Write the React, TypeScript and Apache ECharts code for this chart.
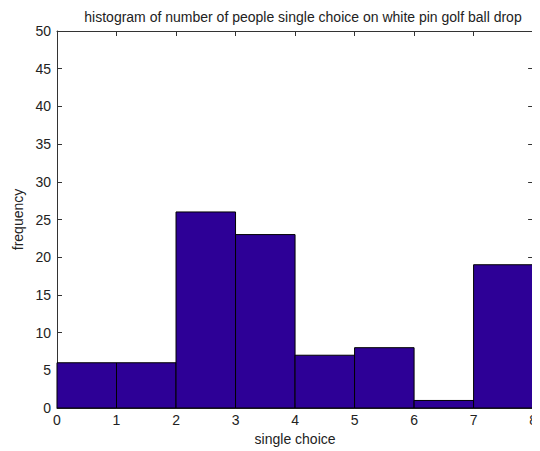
import React, { useEffect, useRef } from "react";
import * as echarts from "echarts";

const binStarts = [0, 1, 2, 3, 4, 5, 6, 7];
const binEnds = [1, 2, 3, 4, 5, 6, 7, 8];
const frequencies = [6, 6, 26, 23, 7, 8, 1, 19];
const xTicks = [0, 1, 2, 3, 4, 5, 6, 7, 8];
const yTicks = [0, 5, 10, 15, 20, 25, 30, 35, 40, 45, 50];

const FONT = "Liberation Sans, Arial, sans-serif";

export default function App() {
  const ref = useRef<HTMLDivElement>(null);
  useEffect(() => {
    if (!ref.current) return;
    const chart = echarts.init(ref.current, undefined, { renderer: "svg" });
    const data = binStarts.map((s, i) => [s, binEnds[i], frequencies[i]]);
    const axisCommon = {
      axisLine: { show: true, onZero: false, lineStyle: { color: "#333", width: 1 } },
      axisTick: { show: true, inside: true, length: 5, lineStyle: { color: "#333" } },
      splitLine: { show: false },
    };
    chart.setOption({
      animation: false,
      backgroundColor: "#fff",
      title: {
        text: "histogram of number of people single choice on white pin golf ball drop",
        left: 298,
        textAlign: "center",
        top: 5,
        textStyle: { fontSize: 14, fontWeight: "normal", color: "#222", fontFamily: FONT },
      },
      grid: { left: 57, right: 5, top: 31, bottom: 42, containLabel: false },
      xAxis: [
        {
          type: "value",
          min: 0,
          max: 8,
          interval: 1,
          position: "bottom",
          name: "single choice",
          nameLocation: "middle",
          nameGap: 24,
          nameTextStyle: { fontSize: 14, color: "#222", fontFamily: FONT },
          axisLabel: {
            color: "#222",
            fontSize: 14,
            fontFamily: FONT,
            margin: 5,
            formatter: (v: number) => (xTicks.includes(v) ? String(v) : ""),
          },
          ...axisCommon,
        },
        {
          type: "value",
          min: 0,
          max: 8,
          interval: 1,
          position: "top",
          axisLabel: { show: false },
          ...axisCommon,
        },
      ],
      yAxis: [
        {
          type: "value",
          min: 0,
          max: 50,
          interval: 5,
          position: "left",
          name: "frequency",
          nameLocation: "middle",
          nameGap: 30,
          nameTextStyle: { fontSize: 14, color: "#222", fontFamily: FONT },
          axisLabel: {
            color: "#222",
            fontSize: 14,
            fontFamily: FONT,
            margin: 6,
            formatter: (v: number) => (yTicks.includes(v) ? String(v) : ""),
          },
          ...axisCommon,
        },
        {
          type: "value",
          min: 0,
          max: 50,
          interval: 5,
          position: "right",
          axisLabel: { show: false },
          ...axisCommon,
        },
      ],
      series: [
        {
          type: "custom",
          xAxisIndex: 0,
          yAxisIndex: 0,
          data,
          encode: { x: [0, 1], y: 2 },
          renderItem: (params: any, api: any) => {
            const p0 = api.coord([api.value(0), api.value(2)]);
            const p1 = api.coord([api.value(1), 0]);
            return {
              type: "rect",
              shape: { x: p0[0], y: p0[1], width: p1[0] - p0[0], height: p1[1] - p0[1] },
              style: { fill: "#2d0096", stroke: "#000", lineWidth: 1 },
            };
          },
        },
      ],
    });
    return () => chart.dispose();
  }, []);
  return <div ref={ref} style={{ width: 540, height: 451, marginLeft: -8, marginTop: -8 }} />;
}
